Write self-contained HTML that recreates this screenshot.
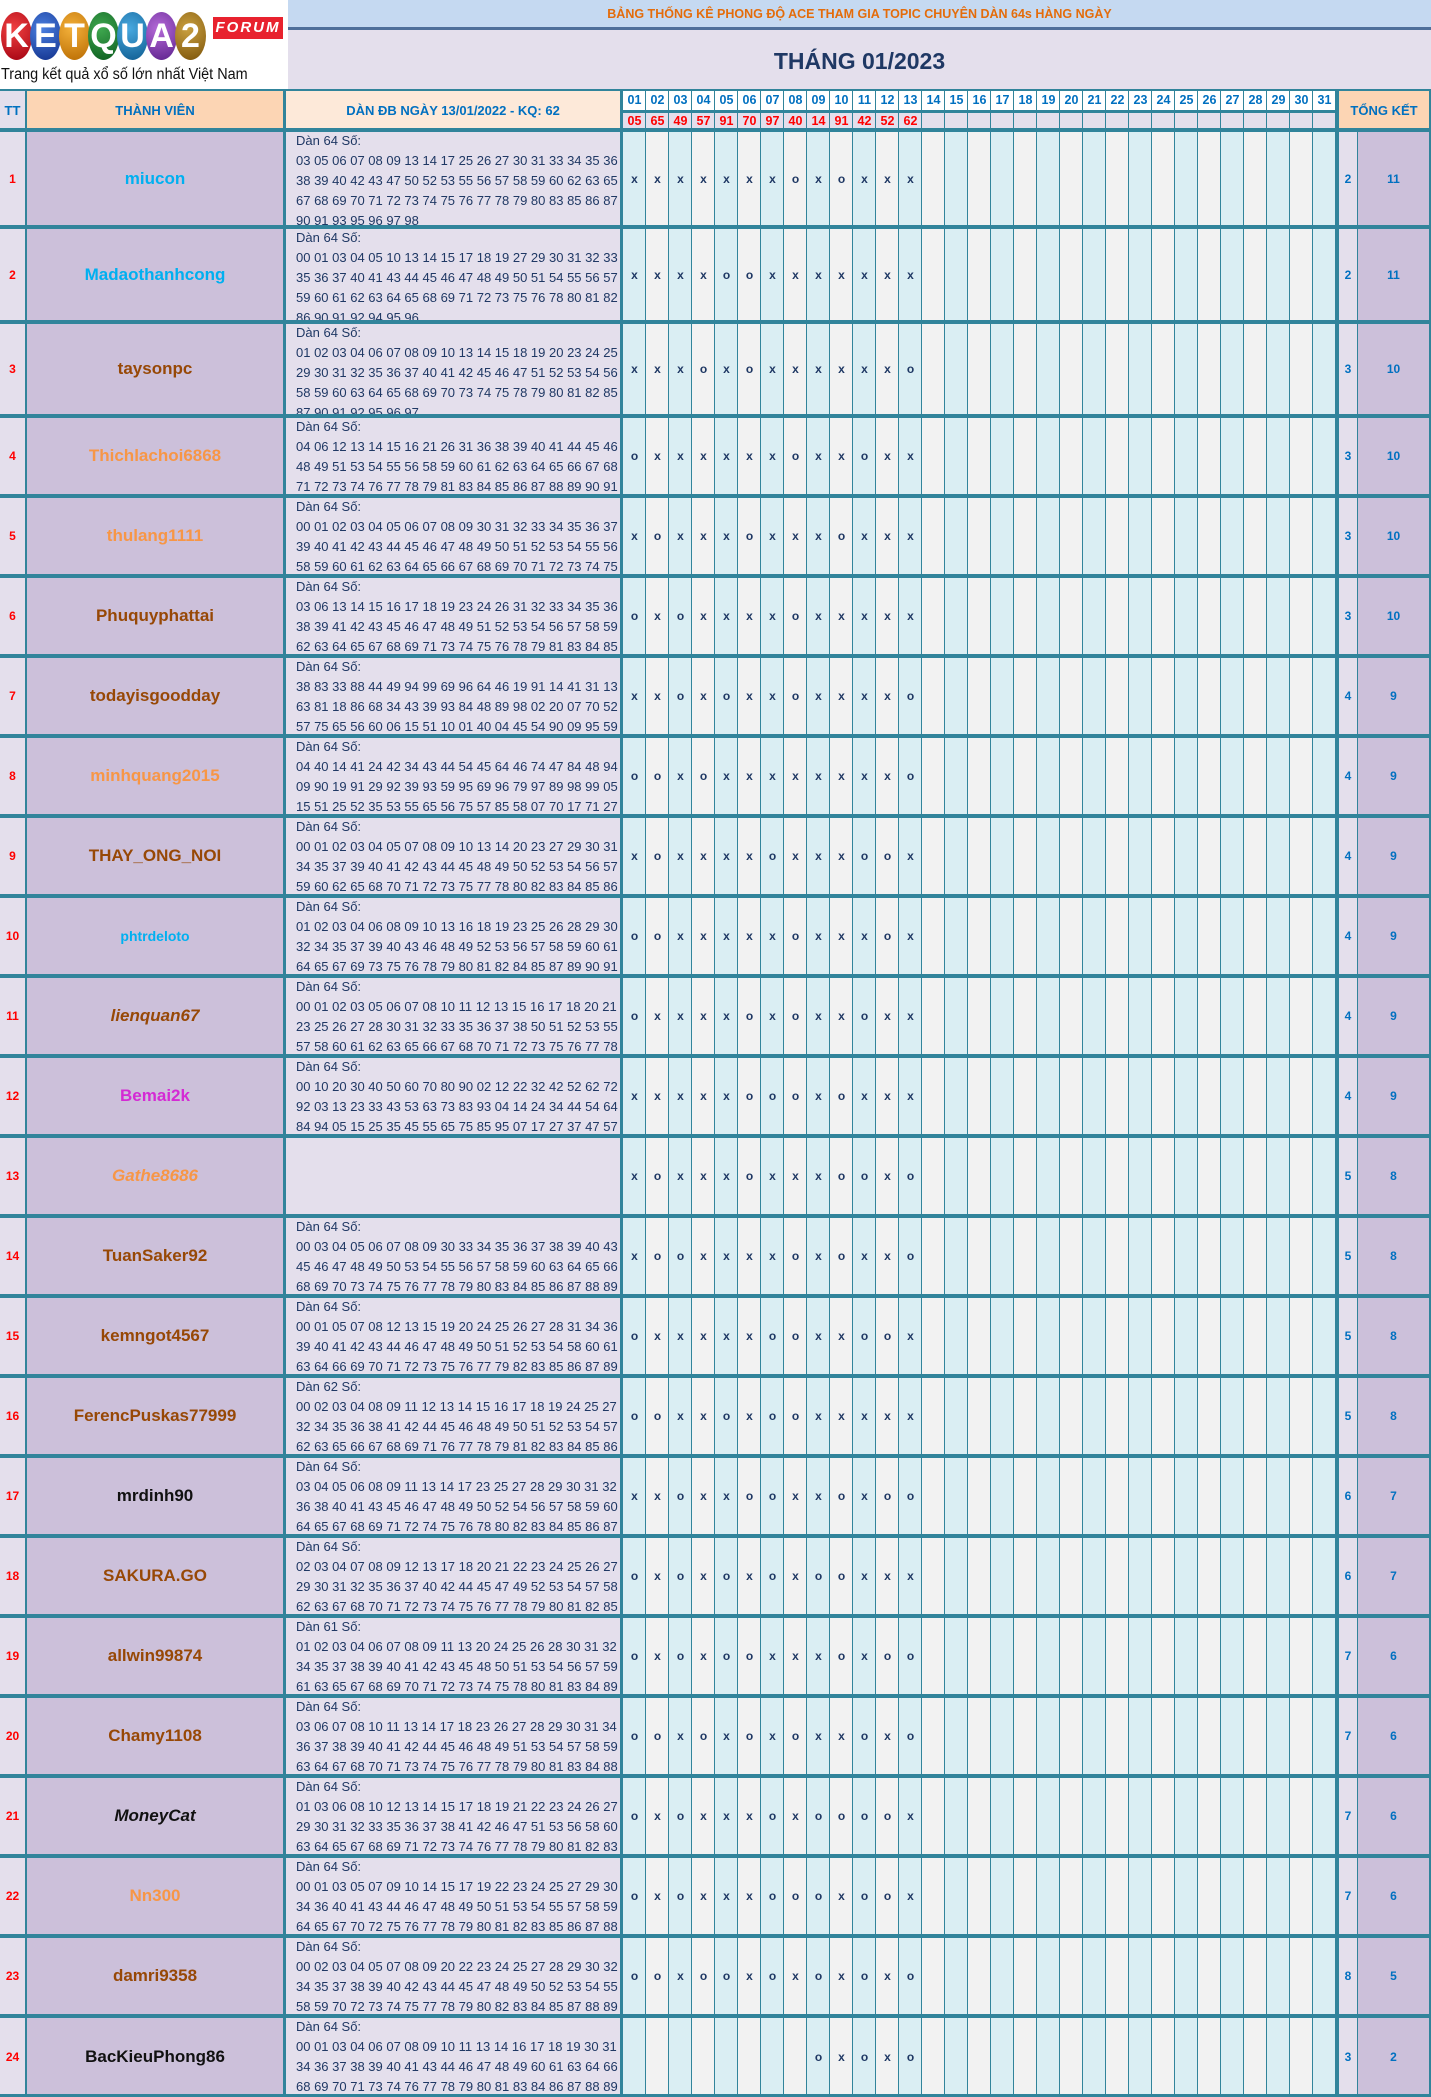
<!DOCTYPE html>
<html><head><meta charset="utf-8">
<style>
*{margin:0;padding:0;box-sizing:border-box}
body{width:1431px;height:2097px;position:relative;background:#fff;font-family:"Liberation Sans",sans-serif;overflow:hidden}
.abs{position:absolute}
.logo{left:0;top:0;width:288px;height:89px;background:#fff;overflow:hidden}
.c{position:absolute;top:12px;width:31px;height:48px;border-radius:50%;color:#fff;font-weight:bold;font-size:34px;display:flex;align-items:center;justify-content:center;font-family:"Liberation Sans",sans-serif}
.forum{left:213px;top:17px;width:70px;height:22px;background:#e8222e;color:#fff;font-style:italic;font-weight:bold;font-size:15px;text-align:center;line-height:22px;letter-spacing:2px}
.tag{left:1px;top:66px;font-size:15.5px;color:#111;white-space:nowrap;transform:scaleX(0.93);transform-origin:left top}
.banner{left:288px;top:0;width:1143px;height:30px;background:#c5d9f1;border-bottom:3px solid #4f6f9a;color:#e46c0a;font-weight:bold;font-size:12.5px;text-align:center;line-height:28px}
.title{left:288px;top:30px;width:1143px;height:59px;background:#e4dfec;color:#1f3864;font-weight:bold;font-size:23px;text-align:center;line-height:62px}
.hd{top:89px;height:41px;display:flex;align-items:center;justify-content:center;color:#0070c0;font-weight:bold;font-size:13px;border-right:3px solid #31849b;border-top:2px solid #31849b}
.days1{left:623px;top:89px;width:713px;height:21px;border-top:2px solid #31849b;background:repeating-linear-gradient(to right,#fff 0 22px,#31849b 22px 23px)}
.days2{left:623px;top:110px;width:713px;height:20px;border-top:3px solid #31849b;background:repeating-linear-gradient(to right,#e4dfec 0 22px,#31849b 22px 23px)}
.dn1,.dn2{display:flex}
.dn1 span,.dn2 span{width:23px;text-align:center;font-weight:bold;font-size:12.5px}
.dn1 span{color:#0070c0;line-height:19px}
.dn2 span{color:#ff0000;line-height:17px}
.grid{left:623px;top:130px;width:713px;height:1967px;background:repeating-linear-gradient(to right,#daeef3 0 22px,#31849b 22px 23px,#f2f2f2 23px 45px,#31849b 45px 46px)}
.r{position:absolute;left:0;width:1431px}
.r::before{content:"";position:absolute;left:0;top:-2px;width:1431px;height:4px;background:#31849b;z-index:3}
.r>div{position:absolute;top:0;bottom:0}
.tt{left:0;width:27px;background:#e4dfec;color:#ff0000;font-weight:bold;font-size:12px;display:flex;align-items:center;justify-content:center;border-right:2px solid #31849b}
.nm{left:27px;width:259px;background:#ccc0da;font-weight:bold;font-size:17px;display:flex;align-items:center;justify-content:center;border-right:3px solid #31849b}
.dn{left:286px;width:337px;background:#e4dfec;color:#1f3864;font-size:13px;line-height:20px;padding:1px 0 0 10px;overflow:hidden;white-space:nowrap;border-right:3px solid #31849b}
.mk{left:623px;width:713px;display:flex;align-items:center}
.mk span{width:23px;text-align:center;color:#1f3864;font-weight:bold;font-size:12px;line-height:14px}
.s1{left:1336px;width:22px;background:#e4dfec;color:#0070c0;font-weight:bold;font-size:12px;display:flex;align-items:center;justify-content:center;border-left:3px solid #31849b;border-right:1px solid #31849b}
.s2{left:1358px;width:73px;background:#ccc0da;color:#0070c0;font-weight:bold;font-size:12px;display:flex;align-items:center;justify-content:center;border-right:2px solid #31849b}
.cy{color:#00b0f0}.br{color:#974806}.or{color:#f79646}.bk{color:#111}.mg{color:#d42ad4}
</style></head><body>

<div class="abs logo">
<div class="c" style="left:1px;background:radial-gradient(circle at 40% 35%,#f04040,#a00010)">K</div>
<div class="c" style="left:30px;background:radial-gradient(circle at 40% 35%,#4a7fe0,#102f8a)">E</div>
<div class="c" style="left:59px;background:radial-gradient(circle at 40% 35%,#f3b03a,#b86a00)">T</div>
<div class="c" style="left:88px;background:radial-gradient(circle at 40% 35%,#3fa84f,#0b5a1e)">Q</div>
<div class="c" style="left:117px;background:radial-gradient(circle at 40% 35%,#48a9e0,#0d5a8e)">U</div>
<div class="c" style="left:146px;background:radial-gradient(circle at 40% 35%,#b56ad8,#5a1f8a)">A</div>
<div class="c" style="left:175px;background:radial-gradient(circle at 40% 35%,#caa040,#7a5208)">2</div>
<div class="abs forum">FORUM</div>
<div class="abs tag">Trang kết quả xổ số lớn nhất Việt Nam</div>
</div>
<div class="abs banner">BẢNG THỐNG KÊ PHONG ĐỘ ACE THAM GIA TOPIC CHUYÊN DÀN 64s HÀNG NGÀY</div>
<div class="abs title">THÁNG 01/2023</div>

<div class="abs hd" style="left:0;width:27px;background:#e4dfec;border-right-width:2px">TT</div>
<div class="abs hd" style="left:27px;width:259px;background:#fcd5b4">THÀNH VIÊN</div>
<div class="abs hd" style="left:286px;width:337px;background:#fde9d9">DÀN ĐB NGÀY 13/01/2022 - KQ: 62</div>
<div class="abs days1"><div class="dn1"><span>01</span><span>02</span><span>03</span><span>04</span><span>05</span><span>06</span><span>07</span><span>08</span><span>09</span><span>10</span><span>11</span><span>12</span><span>13</span><span>14</span><span>15</span><span>16</span><span>17</span><span>18</span><span>19</span><span>20</span><span>21</span><span>22</span><span>23</span><span>24</span><span>25</span><span>26</span><span>27</span><span>28</span><span>29</span><span>30</span><span>31</span></div></div>
<div class="abs days2"><div class="dn2"><span>05</span><span>65</span><span>49</span><span>57</span><span>91</span><span>70</span><span>97</span><span>40</span><span>14</span><span>91</span><span>42</span><span>52</span><span>62</span></div></div>
<div class="abs hd" style="left:1336px;width:95px;background:#fcd5b4;border-left:3px solid #31849b;border-right-width:2px">TỔNG KẾT</div>

<div class="abs grid"></div>

<div class="r" style="top:130px;height:97px"><div class="tt">1</div><div class="nm cy">miucon</div><div class="dn">Dàn 64 Số:<br>03 05 06 07 08 09 13 14 17 25 26 27 30 31 33 34 35 36 37<br>38 39 40 42 43 47 50 52 53 55 56 57 58 59 60 62 63 65 66<br>67 68 69 70 71 72 73 74 75 76 77 78 79 80 83 85 86 87 89<br>90 91 93 95 96 97 98</div><div class="mk"><span>x</span><span>x</span><span>x</span><span>x</span><span>x</span><span>x</span><span>x</span><span>o</span><span>x</span><span>o</span><span>x</span><span>x</span><span>x</span></div><div class="s1">2</div><div class="s2">11</div></div>

<div class="r" style="top:227px;height:95px"><div class="tt">2</div><div class="nm cy">Madaothanhcong</div><div class="dn">Dàn 64 Số:<br>00 01 03 04 05 10 13 14 15 17 18 19 27 29 30 31 32 33 34<br>35 36 37 40 41 43 44 45 46 47 48 49 50 51 54 55 56 57 58<br>59 60 61 62 63 64 65 68 69 71 72 73 75 76 78 80 81 82 85<br>86 90 91 92 94 95 96</div><div class="mk"><span>x</span><span>x</span><span>x</span><span>x</span><span>o</span><span>o</span><span>x</span><span>x</span><span>x</span><span>x</span><span>x</span><span>x</span><span>x</span></div><div class="s1">2</div><div class="s2">11</div></div>

<div class="r" style="top:322px;height:94px"><div class="tt">3</div><div class="nm br">taysonpc</div><div class="dn">Dàn 64 Số:<br>01 02 03 04 06 07 08 09 10 13 14 15 18 19 20 23 24 25 28<br>29 30 31 32 35 36 37 40 41 42 45 46 47 51 52 53 54 56 57<br>58 59 60 63 64 65 68 69 70 73 74 75 78 79 80 81 82 85 86<br>87 90 91 92 95 96 97</div><div class="mk"><span>x</span><span>x</span><span>x</span><span>o</span><span>x</span><span>o</span><span>x</span><span>x</span><span>x</span><span>x</span><span>x</span><span>x</span><span>o</span></div><div class="s1">3</div><div class="s2">10</div></div>

<div class="r" style="top:416px;height:80px"><div class="tt">4</div><div class="nm or">Thichlachoi6868</div><div class="dn">Dàn 64 Số:<br>04 06 12 13 14 15 16 21 26 31 36 38 39 40 41 44 45 46 47<br>48 49 51 53 54 55 56 58 59 60 61 62 63 64 65 66 67 68 69<br>71 72 73 74 76 77 78 79 81 83 84 85 86 87 88 89 90 91 92</div><div class="mk"><span>o</span><span>x</span><span>x</span><span>x</span><span>x</span><span>x</span><span>x</span><span>o</span><span>x</span><span>x</span><span>o</span><span>x</span><span>x</span></div><div class="s1">3</div><div class="s2">10</div></div>

<div class="r" style="top:496px;height:80px"><div class="tt">5</div><div class="nm or">thulang1111</div><div class="dn">Dàn 64 Số:<br>00 01 02 03 04 05 06 07 08 09 30 31 32 33 34 35 36 37 38<br>39 40 41 42 43 44 45 46 47 48 49 50 51 52 53 54 55 56 57<br>58 59 60 61 62 63 64 65 66 67 68 69 70 71 72 73 74 75 76</div><div class="mk"><span>x</span><span>o</span><span>x</span><span>x</span><span>x</span><span>o</span><span>x</span><span>x</span><span>x</span><span>o</span><span>x</span><span>x</span><span>x</span></div><div class="s1">3</div><div class="s2">10</div></div>

<div class="r" style="top:576px;height:80px"><div class="tt">6</div><div class="nm br">Phuquyphattai</div><div class="dn">Dàn 64 Số:<br>03 06 13 14 15 16 17 18 19 23 24 26 31 32 33 34 35 36 37<br>38 39 41 42 43 45 46 47 48 49 51 52 53 54 56 57 58 59 61<br>62 63 64 65 67 68 69 71 73 74 75 76 78 79 81 83 84 85 87</div><div class="mk"><span>o</span><span>x</span><span>o</span><span>x</span><span>x</span><span>x</span><span>x</span><span>o</span><span>x</span><span>x</span><span>x</span><span>x</span><span>x</span></div><div class="s1">3</div><div class="s2">10</div></div>

<div class="r" style="top:656px;height:80px"><div class="tt">7</div><div class="nm br">todayisgoodday</div><div class="dn">Dàn 64 Số:<br>38 83 33 88 44 49 94 99 69 96 64 46 19 91 14 41 31 13 36<br>63 81 18 86 68 34 43 39 93 84 48 89 98 02 20 07 70 52 25<br>57 75 65 56 60 06 15 51 10 01 40 04 45 54 90 09 95 59 22</div><div class="mk"><span>x</span><span>x</span><span>o</span><span>x</span><span>o</span><span>x</span><span>x</span><span>o</span><span>x</span><span>x</span><span>x</span><span>x</span><span>o</span></div><div class="s1">4</div><div class="s2">9</div></div>

<div class="r" style="top:736px;height:80px"><div class="tt">8</div><div class="nm or">minhquang2015</div><div class="dn">Dàn 64 Số:<br>04 40 14 41 24 42 34 43 44 54 45 64 46 74 47 84 48 94 49<br>09 90 19 91 29 92 39 93 59 95 69 96 79 97 89 98 99 05 50<br>15 51 25 52 35 53 55 65 56 75 57 85 58 07 70 17 71 27 72</div><div class="mk"><span>o</span><span>o</span><span>x</span><span>o</span><span>x</span><span>x</span><span>x</span><span>x</span><span>x</span><span>x</span><span>x</span><span>x</span><span>o</span></div><div class="s1">4</div><div class="s2">9</div></div>

<div class="r" style="top:816px;height:80px"><div class="tt">9</div><div class="nm br">THAY_ONG_NOI</div><div class="dn">Dàn 64 Số:<br>00 01 02 03 04 05 07 08 09 10 13 14 20 23 27 29 30 31 32<br>34 35 37 39 40 41 42 43 44 45 48 49 50 52 53 54 56 57 58<br>59 60 62 65 68 70 71 72 73 75 77 78 80 82 83 84 85 86 87</div><div class="mk"><span>x</span><span>o</span><span>x</span><span>x</span><span>x</span><span>x</span><span>o</span><span>x</span><span>x</span><span>x</span><span>o</span><span>o</span><span>x</span></div><div class="s1">4</div><div class="s2">9</div></div>

<div class="r" style="top:896px;height:80px"><div class="tt">10</div><div class="nm cy" style="font-size:14px">phtrdeloto</div><div class="dn">Dàn 64 Số:<br>01 02 03 04 06 08 09 10 13 16 18 19 23 25 26 28 29 30 31<br>32 34 35 37 39 40 43 46 48 49 52 53 56 57 58 59 60 61 62<br>64 65 67 69 73 75 76 78 79 80 81 82 84 85 87 89 90 91 92</div><div class="mk"><span>o</span><span>o</span><span>x</span><span>x</span><span>x</span><span>x</span><span>x</span><span>o</span><span>x</span><span>x</span><span>x</span><span>o</span><span>x</span></div><div class="s1">4</div><div class="s2">9</div></div>

<div class="r" style="top:976px;height:80px"><div class="tt">11</div><div class="nm br" style="font-style:italic">lienquan67</div><div class="dn">Dàn 64 Số:<br>00 01 02 03 05 06 07 08 10 11 12 13 15 16 17 18 20 21 22<br>23 25 26 27 28 30 31 32 33 35 36 37 38 50 51 52 53 55 56<br>57 58 60 61 62 63 65 66 67 68 70 71 72 73 75 76 77 78 80</div><div class="mk"><span>o</span><span>x</span><span>x</span><span>x</span><span>x</span><span>o</span><span>x</span><span>o</span><span>x</span><span>x</span><span>o</span><span>x</span><span>x</span></div><div class="s1">4</div><div class="s2">9</div></div>

<div class="r" style="top:1056px;height:80px"><div class="tt">12</div><div class="nm mg">Bemai2k</div><div class="dn">Dàn 64 Số:<br>00 10 20 30 40 50 60 70 80 90 02 12 22 32 42 52 62 72 82<br>92 03 13 23 33 43 53 63 73 83 93 04 14 24 34 44 54 64 74<br>84 94 05 15 25 35 45 55 65 75 85 95 07 17 27 37 47 57 67</div><div class="mk"><span>x</span><span>x</span><span>x</span><span>x</span><span>x</span><span>o</span><span>o</span><span>o</span><span>x</span><span>o</span><span>x</span><span>x</span><span>x</span></div><div class="s1">4</div><div class="s2">9</div></div>

<div class="r" style="top:1136px;height:80px"><div class="tt">13</div><div class="nm or" style="font-style:italic">Gathe8686</div><div class="dn"></div><div class="mk"><span>x</span><span>o</span><span>x</span><span>x</span><span>x</span><span>o</span><span>x</span><span>x</span><span>x</span><span>o</span><span>o</span><span>x</span><span>o</span></div><div class="s1">5</div><div class="s2">8</div></div>

<div class="r" style="top:1216px;height:80px"><div class="tt">14</div><div class="nm br">TuanSaker92</div><div class="dn">Dàn 64 Số:<br>00 03 04 05 06 07 08 09 30 33 34 35 36 37 38 39 40 43 44<br>45 46 47 48 49 50 53 54 55 56 57 58 59 60 63 64 65 66 67<br>68 69 70 73 74 75 76 77 78 79 80 83 84 85 86 87 88 89 90</div><div class="mk"><span>x</span><span>o</span><span>o</span><span>x</span><span>x</span><span>x</span><span>x</span><span>o</span><span>x</span><span>o</span><span>x</span><span>x</span><span>o</span></div><div class="s1">5</div><div class="s2">8</div></div>

<div class="r" style="top:1296px;height:80px"><div class="tt">15</div><div class="nm br">kemngot4567</div><div class="dn">Dàn 64 Số:<br>00 01 05 07 08 12 13 15 19 20 24 25 26 27 28 31 34 36 37<br>39 40 41 42 43 44 46 47 48 49 50 51 52 53 54 58 60 61 62<br>63 64 66 69 70 71 72 73 75 76 77 79 82 83 85 86 87 89 91</div><div class="mk"><span>o</span><span>x</span><span>x</span><span>x</span><span>x</span><span>x</span><span>o</span><span>o</span><span>x</span><span>x</span><span>o</span><span>o</span><span>x</span></div><div class="s1">5</div><div class="s2">8</div></div>

<div class="r" style="top:1376px;height:80px"><div class="tt">16</div><div class="nm br">FerencPuskas77999</div><div class="dn">Dàn 62 Số:<br>00 02 03 04 08 09 11 12 13 14 15 16 17 18 19 24 25 27 31<br>32 34 35 36 38 41 42 44 45 46 48 49 50 51 52 53 54 57 60<br>62 63 65 66 67 68 69 71 76 77 78 79 81 82 83 84 85 86 87</div><div class="mk"><span>o</span><span>o</span><span>x</span><span>x</span><span>o</span><span>x</span><span>o</span><span>o</span><span>x</span><span>x</span><span>x</span><span>x</span><span>x</span></div><div class="s1">5</div><div class="s2">8</div></div>

<div class="r" style="top:1456px;height:80px"><div class="tt">17</div><div class="nm bk">mrdinh90</div><div class="dn">Dàn 64 Số:<br>03 04 05 06 08 09 11 13 14 17 23 25 27 28 29 30 31 32 34<br>36 38 40 41 43 45 46 47 48 49 50 52 54 56 57 58 59 60 63<br>64 65 67 68 69 71 72 74 75 76 78 80 82 83 84 85 86 87 88</div><div class="mk"><span>x</span><span>x</span><span>o</span><span>x</span><span>x</span><span>o</span><span>o</span><span>x</span><span>x</span><span>o</span><span>x</span><span>o</span><span>o</span></div><div class="s1">6</div><div class="s2">7</div></div>

<div class="r" style="top:1536px;height:80px"><div class="tt">18</div><div class="nm br">SAKURA.GO</div><div class="dn">Dàn 64 Số:<br>02 03 04 07 08 09 12 13 17 18 20 21 22 23 24 25 26 27 28<br>29 30 31 32 35 36 37 40 42 44 45 47 49 52 53 54 57 58 59<br>62 63 67 68 70 71 72 73 74 75 76 77 78 79 80 81 82 85 86</div><div class="mk"><span>o</span><span>x</span><span>o</span><span>x</span><span>o</span><span>x</span><span>o</span><span>x</span><span>o</span><span>o</span><span>x</span><span>x</span><span>x</span></div><div class="s1">6</div><div class="s2">7</div></div>

<div class="r" style="top:1616px;height:80px"><div class="tt">19</div><div class="nm br">allwin99874</div><div class="dn">Dàn 61 Số:<br>01 02 03 04 06 07 08 09 11 13 20 24 25 26 28 30 31 32 33<br>34 35 37 38 39 40 41 42 43 45 48 50 51 53 54 56 57 59 60<br>61 63 65 67 68 69 70 71 72 73 74 75 78 80 81 83 84 89 90</div><div class="mk"><span>o</span><span>x</span><span>o</span><span>x</span><span>o</span><span>o</span><span>x</span><span>x</span><span>x</span><span>o</span><span>x</span><span>o</span><span>o</span></div><div class="s1">7</div><div class="s2">6</div></div>

<div class="r" style="top:1696px;height:80px"><div class="tt">20</div><div class="nm br">Chamy1108</div><div class="dn">Dàn 64 Số:<br>03 06 07 08 10 11 13 14 17 18 23 26 27 28 29 30 31 34 35<br>36 37 38 39 40 41 42 44 45 46 48 49 51 53 54 57 58 59 61<br>63 64 67 68 70 71 73 74 75 76 77 78 79 80 81 83 84 88 89</div><div class="mk"><span>o</span><span>o</span><span>x</span><span>o</span><span>x</span><span>o</span><span>x</span><span>o</span><span>x</span><span>x</span><span>o</span><span>x</span><span>o</span></div><div class="s1">7</div><div class="s2">6</div></div>

<div class="r" style="top:1776px;height:80px"><div class="tt">21</div><div class="nm bk" style="font-style:italic">MoneyCat</div><div class="dn">Dàn 64 Số:<br>01 03 06 08 10 12 13 14 15 17 18 19 21 22 23 24 26 27 28<br>29 30 31 32 33 35 36 37 38 41 42 46 47 51 53 56 58 60 62<br>63 64 65 67 68 69 71 72 73 74 76 77 78 79 80 81 82 83 85</div><div class="mk"><span>o</span><span>x</span><span>o</span><span>x</span><span>x</span><span>x</span><span>o</span><span>x</span><span>o</span><span>o</span><span>o</span><span>o</span><span>x</span></div><div class="s1">7</div><div class="s2">6</div></div>

<div class="r" style="top:1856px;height:80px"><div class="tt">22</div><div class="nm or">Nn300</div><div class="dn">Dàn 64 Số:<br>00 01 03 05 07 09 10 14 15 17 19 22 23 24 25 27 29 30 32<br>34 36 40 41 43 44 46 47 48 49 50 51 53 54 55 57 58 59 62<br>64 65 67 70 72 75 76 77 78 79 80 81 82 83 85 86 87 88 90</div><div class="mk"><span>o</span><span>x</span><span>o</span><span>x</span><span>x</span><span>x</span><span>o</span><span>o</span><span>o</span><span>x</span><span>o</span><span>o</span><span>x</span></div><div class="s1">7</div><div class="s2">6</div></div>

<div class="r" style="top:1936px;height:80px"><div class="tt">23</div><div class="nm br">damri9358</div><div class="dn">Dàn 64 Số:<br>00 02 03 04 05 07 08 09 20 22 23 24 25 27 28 29 30 32 33<br>34 35 37 38 39 40 42 43 44 45 47 48 49 50 52 53 54 55 57<br>58 59 70 72 73 74 75 77 78 79 80 82 83 84 85 87 88 89 90</div><div class="mk"><span>o</span><span>o</span><span>x</span><span>o</span><span>o</span><span>x</span><span>o</span><span>x</span><span>o</span><span>x</span><span>o</span><span>x</span><span>o</span></div><div class="s1">8</div><div class="s2">5</div></div>

<div class="r" style="top:2016px;height:81px"><div class="tt">24</div><div class="nm bk">BacKieuPhong86</div><div class="dn">Dàn 64 Số:<br>00 01 03 04 06 07 08 09 10 11 13 14 16 17 18 19 30 31 33<br>34 36 37 38 39 40 41 43 44 46 47 48 49 60 61 63 64 66 67<br>68 69 70 71 73 74 76 77 78 79 80 81 83 84 86 87 88 89 90</div><div class="mk"><span></span><span></span><span></span><span></span><span></span><span></span><span></span><span></span><span>o</span><span>x</span><span>o</span><span>x</span><span>o</span></div><div class="s1">3</div><div class="s2">2</div></div>

<div class="abs" style="left:0;top:2094px;width:1431px;height:3px;background:#31849b"></div>
</body></html>
